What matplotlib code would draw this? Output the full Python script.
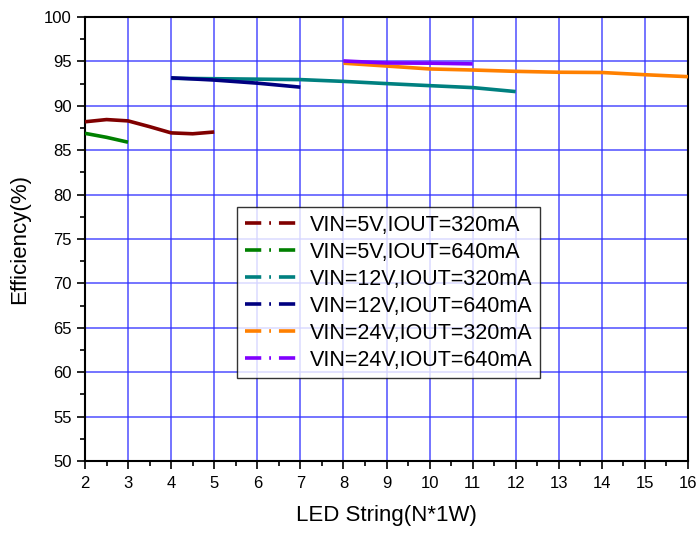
import matplotlib
matplotlib.use("Agg")
import matplotlib.pyplot as plt
from matplotlib.lines import Line2D
from matplotlib.ticker import MultipleLocator

plt.rcParams['font.family'] = ['Liberation Sans', 'DejaVu Sans']

labels = ["VIN=5V,IOUT=320mA", "VIN=5V,IOUT=640mA", "VIN=12V,IOUT=320mA",
          "VIN=12V,IOUT=640mA", "VIN=24V,IOUT=320mA", "VIN=24V,IOUT=640mA"]
colors = ["#800000", "#008000", "#008080", "#000080", "#ff8000", "#8000ff"]

x_5v_320 = [2, 2.5, 3, 3.5, 4, 4.5, 5]
y_5v_320 = [88.2, 88.45, 88.3, 87.65, 86.95, 86.85, 87.05]
x_5v_640 = [2, 2.5, 3]
y_5v_640 = [86.9, 86.45, 85.9]
x_12v_320 = [4, 5, 6, 7, 8, 9, 10, 11, 12]
y_12v_320 = [93.1, 93.05, 93.0, 92.95, 92.75, 92.5, 92.27, 92.05, 91.6]
x_12v_640 = [4, 5, 6, 7]
y_12v_640 = [93.15, 92.9, 92.55, 92.1]
x_24v_320 = [8, 9, 10, 11, 12, 13, 14, 15, 16]
y_24v_320 = [94.8, 94.48, 94.15, 94.03, 93.88, 93.78, 93.75, 93.5, 93.28]
x_24v_640 = [8, 9, 10, 11]
y_24v_640 = [95.05, 94.82, 94.8, 94.72]

series = [(x_5v_320, y_5v_320), (x_5v_640, y_5v_640), (x_12v_320, y_12v_320),
          (x_12v_640, y_12v_640), (x_24v_320, y_24v_320), (x_24v_640, y_24v_640)]

fig = plt.figure(figsize=(6.96, 5.34), dpi=100)
ax = fig.add_axes([85/696, 73/534, (688-85)/696, (461-17)/534])

for (xs, ys), c in zip(series, colors):
    ax.plot(xs, ys, color=c, lw=2.6, solid_capstyle='butt', zorder=3)

ax.set_xlim(2, 16)
ax.set_ylim(50, 100)
ax.xaxis.set_major_locator(MultipleLocator(1))
ax.xaxis.set_minor_locator(MultipleLocator(0.5))
ax.yaxis.set_major_locator(MultipleLocator(5))
ax.yaxis.set_minor_locator(MultipleLocator(2.5))
ax.grid(True, which='major', color='#3030ff', lw=1.1, alpha=0.85, zorder=1)
ax.tick_params(which='major', direction='out', length=6, width=1.2, labelsize=12,
               colors='black')
ax.tick_params(axis='x', which='major', pad=5)
ax.tick_params(which='minor', direction='out', length=3.5, width=1.2)
for s in ax.spines.values():
    s.set_linewidth(1.5)
    s.set_color('black')

ax.set_xlabel("LED String(N*1W)", fontsize=16, labelpad=10)
ax.set_ylabel("Efficiency(%)", fontsize=16, labelpad=10)

handles = [Line2D([0], [0], color=c, lw=2.6, linestyle=(0, (4.5, 2.2, 0.5, 2.2)))
           for c in colors]
leg = ax.legend(handles, labels, loc='upper left',
                bbox_to_anchor=((237-85)/603, (461-207)/444),
                fontsize=15.5, frameon=True, fancybox=False, edgecolor='black',
                handlelength=2.6, handletextpad=0.45, labelspacing=0.28, borderpad=0.35,
                borderaxespad=0)
leg.get_frame().set_linewidth(1.0)
leg.set_zorder(5)

fig.savefig("out.png", dpi=100)
